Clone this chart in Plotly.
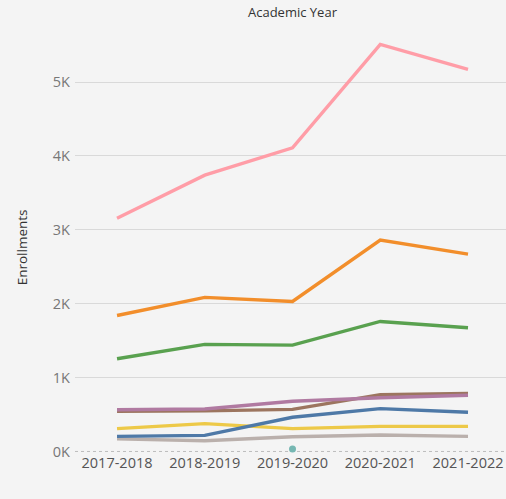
import plotly.graph_objects as go

years = ["2017-2018", "2018-2019", "2019-2020", "2020-2021", "2021-2022"]

pink = [3155, 3740, 4110, 5510, 5170]
orange = [1840, 2085, 2030, 2860, 2670]
green = [1255, 1450, 1440, 1760, 1675]
brown = [545, 550, 570, 770, 786]
purple = [565, 575, 680, 727, 760]
blue = [204, 218, 463, 580, 530]
yellow = [310, 377, 310, 340, 340]
gray = [170, 145, 200, 223, 204]
teal_year = ["2019-2020"]
teal = [35]

y_ticks = [0, 1000, 2000, 3000, 4000, 5000]
y_labels = ["0K", "1K", "2K", "3K", "4K", "5K"]

series = [
    ("Gray", gray, "#bab0ac"),
    ("Yellow", yellow, "#edc948"),
    ("Blue", blue, "#4e79a7"),
    ("Brown", brown, "#9c755f"),
    ("Purple", purple, "#b07aa1"),
    ("Green", green, "#59a14f"),
    ("Orange", orange, "#f28e2b"),
    ("Pink", pink, "#ff9da7"),
]

FONT = "Open Sans"

fig = go.Figure()
for name, vals, col in series:
    fig.add_trace(go.Scatter(x=years, y=vals, mode="lines", name=name,
                             line=dict(color=col, width=3.4), cliponaxis=False))
fig.add_trace(go.Scatter(x=teal_year, y=teal, mode="markers", name="Teal",
                         marker=dict(color="#76b7b2", size=7), cliponaxis=False))

# dotted zero line
fig.add_shape(type="line", xref="paper", yref="y", x0=0, x1=1, y0=0, y1=0,
              line=dict(color="#bdbdbd", width=1, dash="dot"), layer="below")

fig.add_annotation(text="Academic Year", xref="x", yref="paper", x=2, y=1,
                   yshift=18, yanchor="middle", showarrow=False,
                   font=dict(family=FONT, size=13, color="#333333"))
fig.add_annotation(text="Enrollments", xref="paper", yref="paper", x=0, y=0.485,
                   xshift=-64, textangle=-90, showarrow=False,
                   font=dict(family=FONT, size=13.5, color="#333333"))

fig.update_layout(
    width=506, height=499,
    margin=dict(l=75, r=0, t=30, b=47, autoexpand=False),
    paper_bgcolor="#f4f4f4", plot_bgcolor="#f4f4f4",
    showlegend=False,
    font=dict(family=FONT, size=12, color="#666666"),
    xaxis=dict(type="category", range=[-0.479, 4.433], showgrid=False,
               zeroline=False, showline=False, ticks="", automargin=False,
               tickfont=dict(size=14.5, color="#555555")),
    yaxis=dict(range=[-7, 5704], tickvals=y_ticks, ticktext=y_labels,
               showgrid=True, gridcolor="#d9d9d9", gridwidth=1,
               zeroline=False, showline=False, ticks="", automargin=False,
               ticklabelstandoff=4,
               tickfont=dict(size=14.5, color="#777777")),
)

fig.write_html("out.html", config={"displayModeBar": False},
               post_script="document.body.style.margin='0';document.body.style.overflow='hidden';")
